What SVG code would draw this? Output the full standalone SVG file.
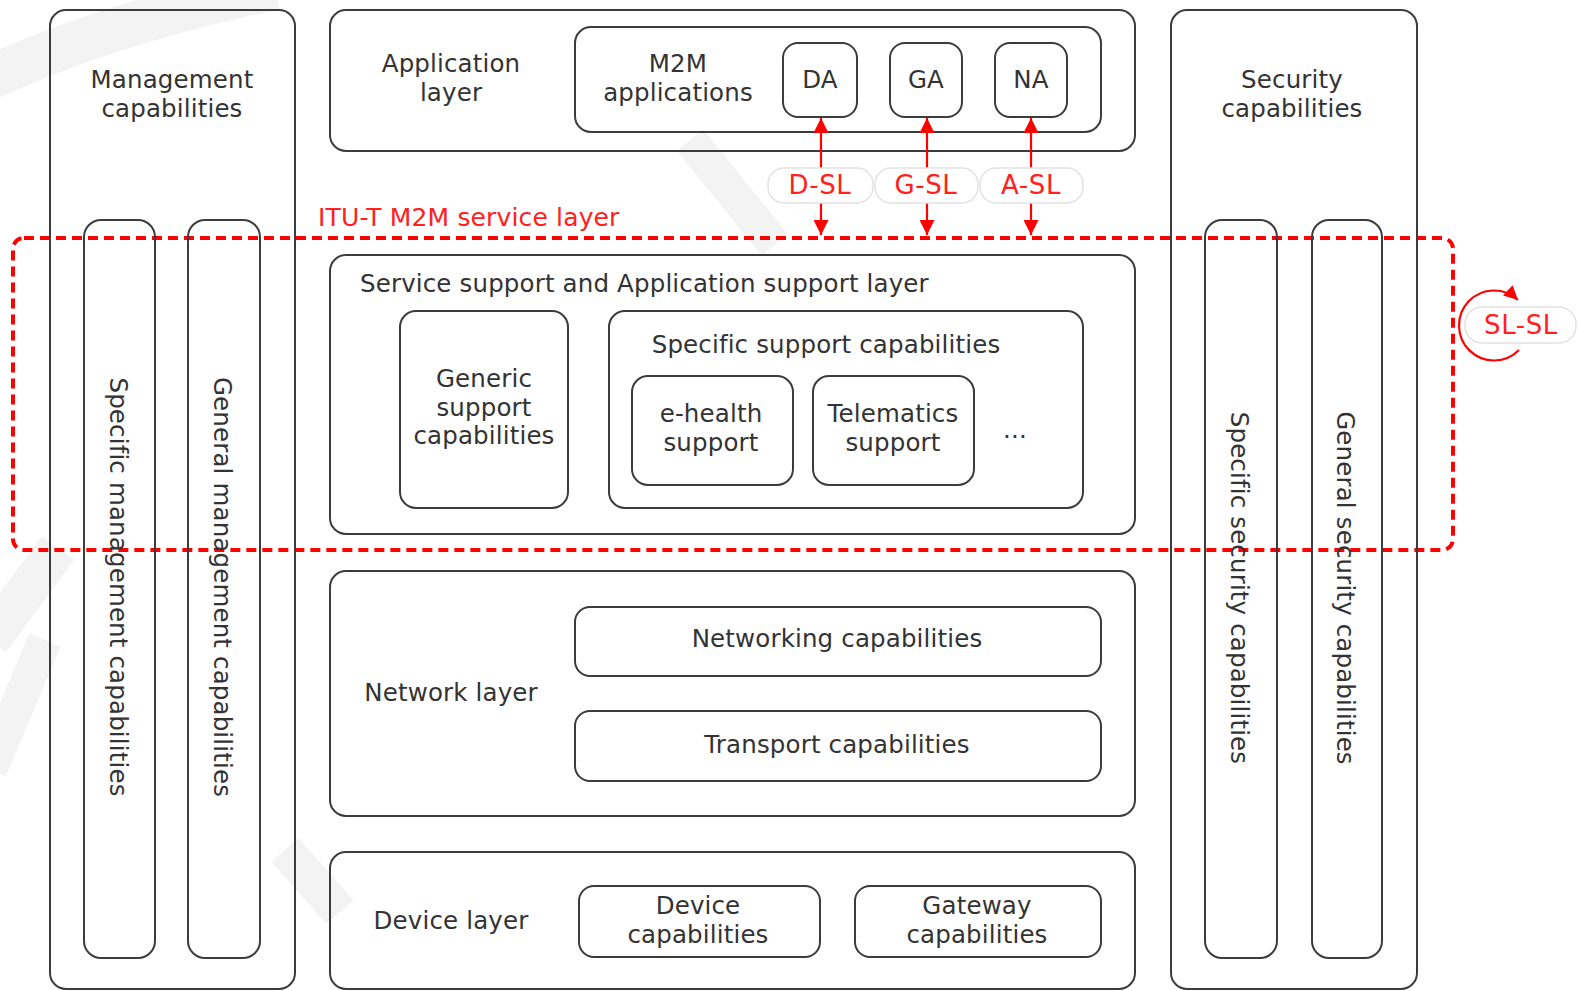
<svg xmlns="http://www.w3.org/2000/svg" width="1578" height="991" viewBox="0 0 1578 991">
<defs>
<style>
.box{fill:none;stroke:#3c3c3c;stroke-width:2}
.t{font-family:"DejaVu Sans",Verdana,sans-serif;font-size:24.5px;letter-spacing:0.15px;fill:#333;text-anchor:middle}
.ts{font-family:"DejaVu Sans",Verdana,sans-serif;font-size:24.5px;letter-spacing:0.15px;fill:#333}
.red{font-family:"DejaVu Sans",Verdana,sans-serif;font-size:25px;letter-spacing:0.15px;fill:#ff2020}
.redc{font-family:"DejaVu Sans",Verdana,sans-serif;font-size:26px;letter-spacing:0.6px;fill:#ff2020;text-anchor:middle}
.lbl{fill:#fff;stroke:#e2e2e2;stroke-width:1.5}
.arr{fill:none;stroke:#ff0000;stroke-width:2.2}
.wm{fill:none;stroke:#f3f3f3;stroke-linecap:butt}
</style>
<marker id="ah" viewBox="0 0 10 10" refX="10" refY="5" markerUnits="userSpaceOnUse" markerWidth="19" markerHeight="15" orient="auto-start-reverse">
<path d="M0,0 L10,5 L0,10 z" fill="#ff0000"/>
</marker>
<marker id="ah2" viewBox="0 0 10 10" refX="10" refY="5" markerUnits="userSpaceOnUse" markerWidth="17" markerHeight="14" orient="auto">
<path d="M0,0 L10,5 L0,10 z" fill="#ff0000"/>
</marker>
</defs>
<rect width="1578" height="991" fill="#fff"/>
<g id="watermark">
<path class="wm" d="M-10,78 Q110,22 275,-12" stroke-width="44"/>
<path class="wm" d="M-10,640 L58,548" stroke-width="40"/>
<path class="wm" d="M-10,770 L45,640" stroke-width="34"/>
<path class="wm" d="M285,850 L340,912" stroke-width="36"/>
<path class="wm" d="M690,140 L775,245" stroke-width="34"/>
</g>
<g id="service-layer-boundary">
<rect x="13" y="238" width="1440" height="312" rx="11" fill="none" stroke="#ff0000" stroke-width="4" stroke-dasharray="10 6"/>
<text class="red" x="318" y="226">ITU-T M2M service layer</text>
</g>
<g id="management">
<rect class="box" x="50" y="10" width="245" height="979" rx="16"/>
<text class="t" x="172" y="88">Management</text>
<text class="t" x="172" y="117">capabilities</text>
</g>
<g id="specific-management">
<rect class="box" x="84" y="220" width="71" height="738" rx="17"/>
<text class="t" transform="translate(110,587) rotate(90)">Specific management capabilities</text>
</g>
<g id="general-management">
<rect class="box" x="188" y="220" width="72" height="738" rx="17"/>
<text class="t" transform="translate(214,587) rotate(90)">General management capabilities</text>
</g>
<g id="application-layer">
<rect class="box" x="330" y="10" width="805" height="141" rx="16"/>
<text class="t" x="451" y="72">Application</text>
<text class="t" x="451" y="101">layer</text>
</g>
<g id="m2m-applications">
<rect class="box" x="575" y="27" width="526" height="105" rx="16"/>
<text class="t" x="678" y="72">M2M</text>
<text class="t" x="678" y="101">applications</text>
</g>
<g id="da">
<rect class="box" x="783" y="43" width="74" height="74" rx="15"/>
<text class="t" x="820" y="88">DA</text>
</g>
<g id="ga">
<rect class="box" x="890" y="43" width="72" height="74" rx="15"/>
<text class="t" x="926" y="88">GA</text>
</g>
<g id="na">
<rect class="box" x="995" y="43" width="72" height="74" rx="15"/>
<text class="t" x="1031" y="88">NA</text>
</g>
<g id="security">
<rect class="box" x="1171" y="10" width="246" height="979" rx="16"/>
<text class="t" x="1292" y="88">Security</text>
<text class="t" x="1292" y="117">capabilities</text>
</g>
<g id="specific-security">
<rect class="box" x="1205" y="220" width="72" height="738" rx="17"/>
<text class="t" transform="translate(1231,588) rotate(90)">Specific security capabilities</text>
</g>
<g id="general-security">
<rect class="box" x="1312" y="220" width="70" height="738" rx="17"/>
<text class="t" transform="translate(1337,588) rotate(90)">General security capabilities</text>
</g>
<g id="service-support-layer">
<rect class="box" x="330" y="255" width="805" height="279" rx="16"/>
<text class="ts" x="360" y="292">Service support and Application support layer</text>
</g>
<g id="generic-support">
<rect class="box" x="400" y="311" width="168" height="197" rx="16"/>
<text class="t" x="484" y="387">Generic</text>
<text class="t" x="484" y="416">support</text>
<text class="t" x="484" y="444">capabilities</text>
</g>
<g id="specific-support">
<rect class="box" x="609" y="311" width="474" height="197" rx="16"/>
<text class="t" x="826" y="353">Specific support capabilities</text>
<text class="t" x="1015" y="438">...</text>
</g>
<g id="e-health">
<rect class="box" x="632" y="376" width="161" height="109" rx="16"/>
<text class="t" x="711" y="422">e-health</text>
<text class="t" x="711" y="451">support</text>
</g>
<g id="telematics">
<rect class="box" x="813" y="376" width="161" height="109" rx="16"/>
<text class="t" x="893" y="422">Telematics</text>
<text class="t" x="893" y="451">support</text>
</g>
<g id="network-layer">
<rect class="box" x="330" y="571" width="805" height="245" rx="16"/>
<text class="t" x="451" y="701">Network layer</text>
</g>
<g id="networking">
<rect class="box" x="575" y="607" width="526" height="69" rx="15"/>
<text class="t" x="837" y="647">Networking capabilities</text>
</g>
<g id="transport">
<rect class="box" x="575" y="711" width="526" height="70" rx="15"/>
<text class="t" x="837" y="753">Transport capabilities</text>
</g>
<g id="device-layer">
<rect class="box" x="330" y="852" width="805" height="137" rx="16"/>
<text class="t" x="451" y="929">Device layer</text>
</g>
<g id="device-capabilities">
<rect class="box" x="579" y="886" width="241" height="71" rx="15"/>
<text class="t" x="698" y="914">Device</text>
<text class="t" x="698" y="943">capabilities</text>
</g>
<g id="gateway-capabilities">
<rect class="box" x="855" y="886" width="246" height="71" rx="15"/>
<text class="t" x="977" y="914">Gateway</text>
<text class="t" x="977" y="943">capabilities</text>
</g>
<g id="connectors">
<path class="arr" d="M821,118 L821,235" marker-start="url(#ah)" marker-end="url(#ah)"/>
<path class="arr" d="M927,118 L927,235" marker-start="url(#ah)" marker-end="url(#ah)"/>
<path class="arr" d="M1031,118 L1031,235" marker-start="url(#ah)" marker-end="url(#ah)"/>
<rect class="lbl" x="768" y="168" width="105" height="35" rx="16"/>
<text class="redc" x="820" y="194">D-SL</text>
<rect class="lbl" x="875" y="168" width="103" height="35" rx="16"/>
<text class="redc" x="926" y="194">G-SL</text>
<rect class="lbl" x="980" y="168" width="103" height="35" rx="16"/>
<text class="redc" x="1031" y="194">A-SL</text>
<path class="arr" d="M1519,350 A35,35 0 1 1 1518,300" stroke-width="2" marker-end="url(#ah2)"/>
<rect class="lbl" x="1465" y="307" width="111" height="36" rx="17"/>
<text class="redc" x="1521" y="334">SL-SL</text>
</g>
</svg>
